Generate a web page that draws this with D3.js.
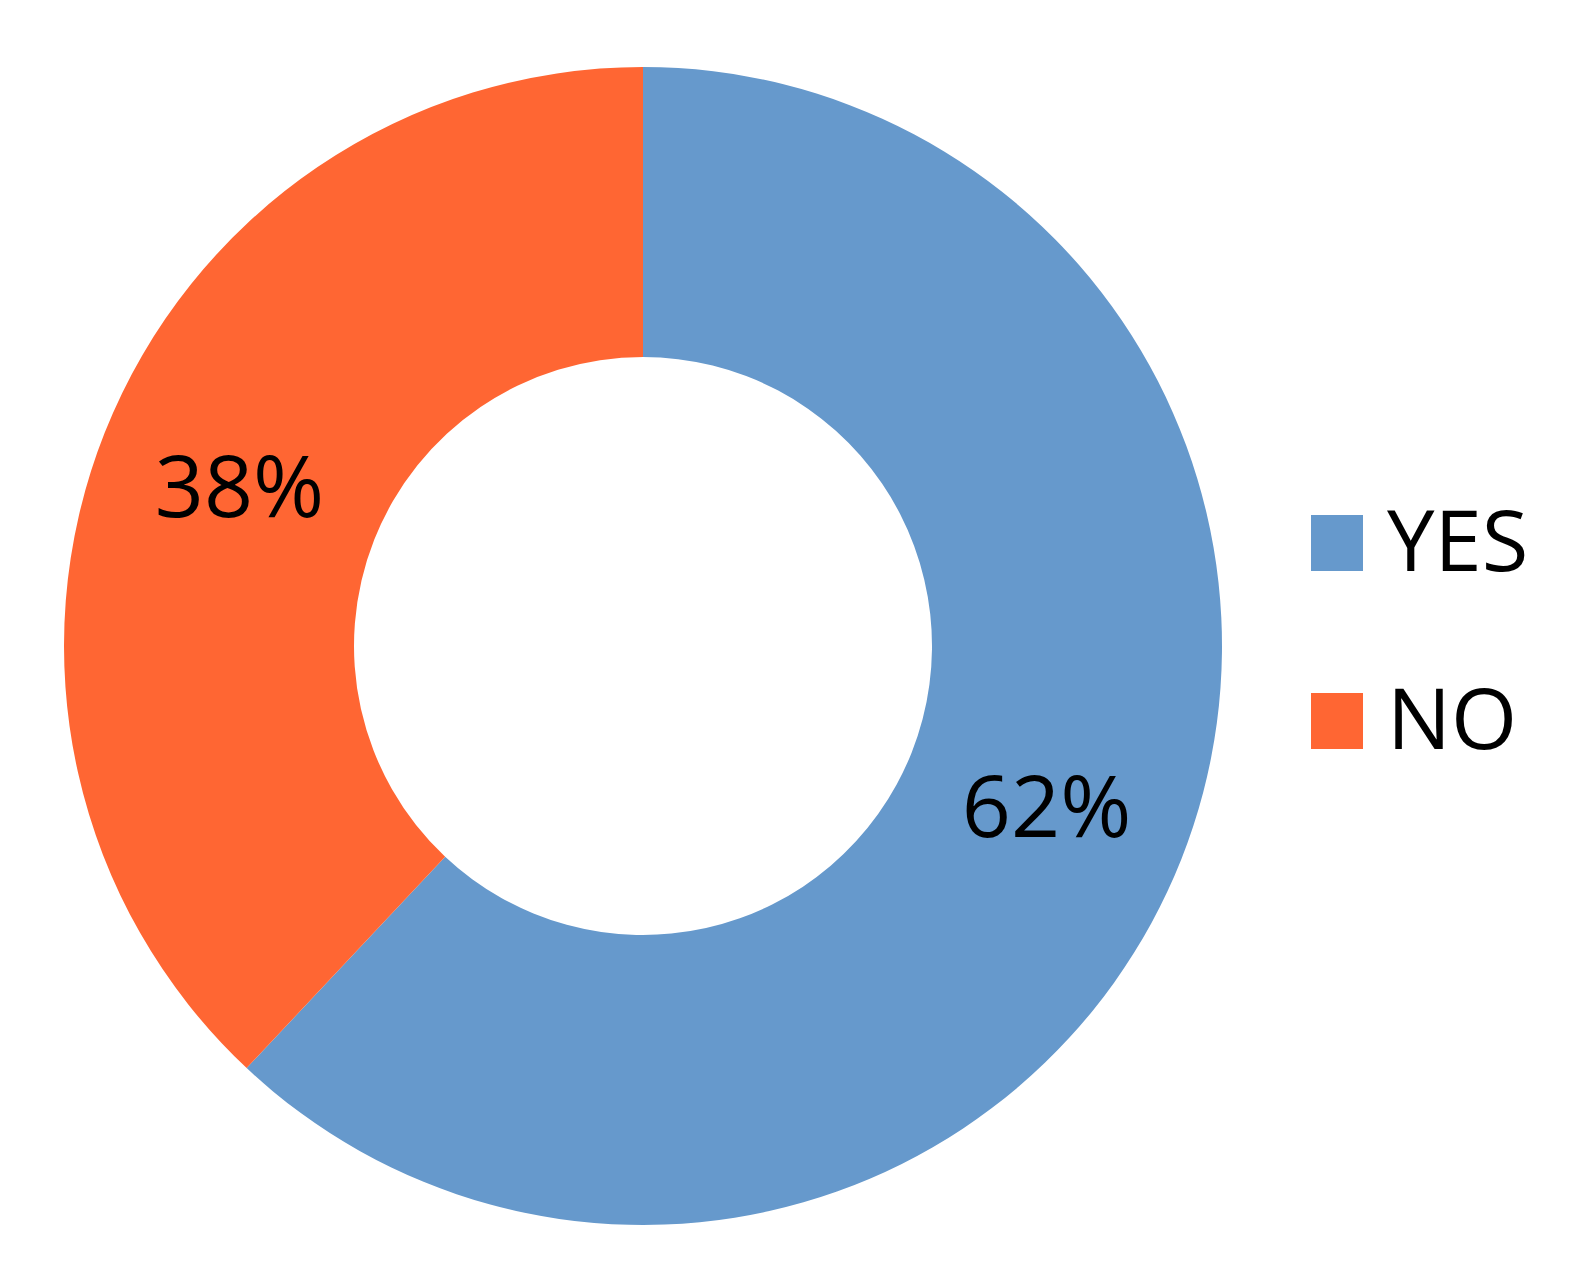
<!DOCTYPE html>
<html>
<head>
<meta charset="utf-8">
<script src="https://cdn.jsdelivr.net/npm/d3@7"></script>
<style>
  body { margin: 0; background: #fff; }
  text { font-family: "Open Sans", sans-serif; fill: #000; }
</style>
</head>
<body>
<script>
var categories = ["YES", "NO"];
var values = [62, 38];
var colors = ["#6699cc", "#ff6633"];

var width = 1590, height = 1284;
var cx = 643, cy = 646, outerR = 579, innerR = 289;

var svg = d3.select("body").append("svg")
  .attr("width", width)
  .attr("height", height);

var data = categories.map(function (c, i) { return {name: c, value: values[i], color: colors[i]}; });

var pie = d3.pie().sort(null).value(function (d) { return d.value; });
var arc = d3.arc().innerRadius(innerR).outerRadius(outerR);

var g = svg.append("g").attr("transform", "translate(" + cx + "," + cy + ")");

var slices = pie(data);

g.selectAll(".slice")
  .data(slices)
  .enter().append("path")
  .attr("class", "slice")
  .attr("d", arc)
  .attr("fill", function (d) { return d.data.color; });

g.selectAll(".label")
  .data(slices)
  .enter().append("text")
  .attr("class", "label")
  .attr("transform", function (d) { return "translate(" + arc.centroid(d) + ")"; })
  .attr("text-anchor", "middle")
  .attr("dy", "0.36em")
  .style("font-size", "86px")
  .text(function (d) { return d.data.value + "%"; });

// legend
var legend = svg.append("g").attr("transform", "translate(1311,515)");
var item = legend.selectAll(".item")
  .data(data)
  .enter().append("g")
  .attr("class", "item")
  .attr("transform", function (d, i) { return "translate(0," + (i * 178) + ")"; });

item.append("rect")
  .attr("width", 52)
  .attr("height", 56)
  .attr("fill", function (d) { return d.color; });

item.append("text")
  .attr("x", 76)
  .attr("y", 56)
  .style("font-size", "85px")
  .text(function (d) { return d.name; });
</script>
</body>
</html>
